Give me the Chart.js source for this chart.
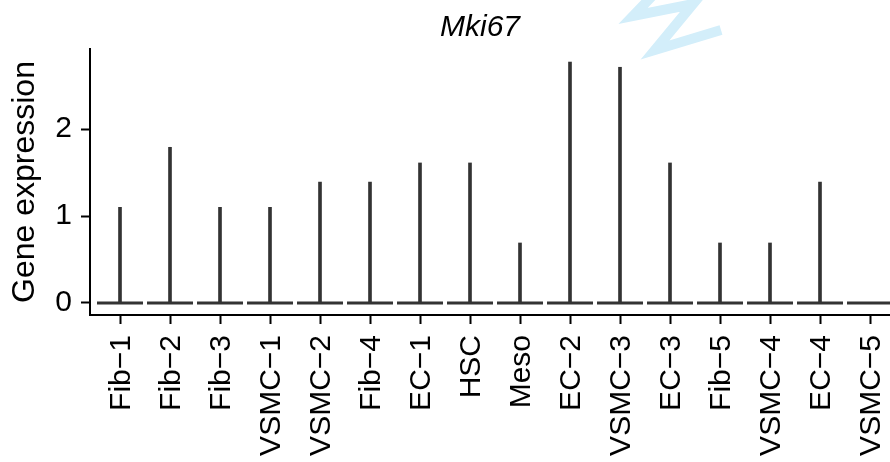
<!DOCTYPE html>
<html>
<head>
<meta charset="utf-8">
<script src="https://cdn.jsdelivr.net/npm/chart.js@4"></script>
<style>
  html, body { margin: 0; padding: 0; background: #fff; }
  #wrap { width: 890px; height: 462px; }
</style>
</head>
<body>
<div id="wrap"><canvas id="c" width="890" height="462"></canvas></div>
<script>
// cell types along the x axis
const categories = [
  "Fib\u22121", "Fib\u22122", "Fib\u22123", "VSMC\u22121", "VSMC\u22122", "Fib\u22124",
  "EC\u22121", "HSC", "Meso", "EC\u22122", "VSMC\u22123", "EC\u22123",
  "Fib\u22125", "VSMC\u22124", "EC\u22124", "VSMC\u22125"
];
// highest Mki67 expression per cell type (violin tip); all violins sit on 0
const maxExpr = [1.10, 1.79, 1.10, 1.10, 1.39, 1.39, 1.61, 1.61, 0.69, 2.77, 2.71, 1.61, 0.69, 0.69, 1.39, 0];
const baseExpr = categories.map(() => 0);
const yTicks = [0, 1, 2];

const FONT = "'Liberation Sans', Arial, Helvetica, sans-serif";
const INK = "#333333";

// flat body of each violin at the base value
const violinBase = {
  id: "violinBase",
  beforeDatasetsDraw(chart) {
    const { ctx, scales: { x, y } } = chart;
    ctx.save();
    ctx.strokeStyle = INK;
    ctx.lineWidth = 3;
    baseExpr.forEach((v, i) => {
      const py = y.getPixelForValue(v);
      ctx.beginPath();
      ctx.moveTo(x.getPixelForValue(i - 0.46), py);
      ctx.lineTo(x.getPixelForValue(i + 0.46), py);
      ctx.stroke();
    });
    ctx.restore();
  }
};

// title + faint watermark stroke
const decorations = {
  id: "decorations",
  afterDraw(chart) {
    const { ctx } = chart;
    ctx.save();
    ctx.strokeStyle = "#d3eefa";
    ctx.lineWidth = 10;
    ctx.lineJoin = "miter";
    ctx.beginPath();
    ctx.moveTo(656, -8);
    ctx.lineTo(633, 16);
    ctx.lineTo(693, 4);
    ctx.lineTo(655, 50);
    ctx.lineTo(721, 30);
    ctx.stroke();

    ctx.fillStyle = "#000";
    ctx.font = "italic 30px " + FONT;
    ctx.textAlign = "center";
    ctx.textBaseline = "middle";
    ctx.fillText("Mki67", 480, 28);
    ctx.restore();
  }
};

new Chart(document.getElementById("c"), {
  type: "bar",
  data: {
    datasets: [{
      data: maxExpr.map((v, i) => ({ x: i, y: [0, v] })),
      backgroundColor: INK,
      borderWidth: 0,
      barThickness: 3
    }]
  },
  options: {
    responsive: false,
    animation: false,
    devicePixelRatio: 1,
    layout: { padding: { top: 49, left: 0, right: 0, bottom: 0 } },
    plugins: { legend: { display: false }, tooltip: { enabled: false } },
    scales: {
      x: {
        type: "linear",
        offset: false,
        min: -0.6,
        max: 15.4,
        afterBuildTicks(scale) {
          scale.ticks = categories.map((_, i) => ({ value: i }));
        },
        afterFit(scale) {
          scale.height = 147;
          scale.paddingLeft = 0;
          scale.paddingRight = 0;
        },
        grid: { offset: false, drawOnChartArea: false, drawTicks: true, tickLength: 9, tickWidth: 2, tickColor: "#000" },
        border: { display: true, color: "#000", width: 2 },
        ticks: {
          autoSkip: false,
          minRotation: 90,
          maxRotation: 90,
          padding: 11,
          labelOffset: 2,
          color: "#000",
          font: { family: FONT, size: 30 },
          callback: (v) => categories[v]
        }
      },
      y: {
        min: -0.138,
        max: 2.92,
        afterBuildTicks(scale) {
          scale.ticks = yTicks.map((v) => ({ value: v }));
        },
        afterFit(scale) {
          scale.width = 90;
          scale.paddingTop = 0;
          scale.paddingBottom = 0;
        },
        grid: { drawOnChartArea: false, drawTicks: true, tickLength: 9, tickWidth: 2, tickColor: "#000" },
        border: { display: true, color: "#000", width: 2 },
        ticks: {
          padding: 9,
          color: "#000",
          font: { family: FONT, size: 30 }
        },
        title: {
          display: true,
          text: "Gene expression",
          color: "#000",
          font: { family: FONT, size: 32 },
          padding: { top: 6, bottom: 0 }
        }
      }
    }
  },
  plugins: [violinBase, decorations]
});
</script>
</body>
</html>
